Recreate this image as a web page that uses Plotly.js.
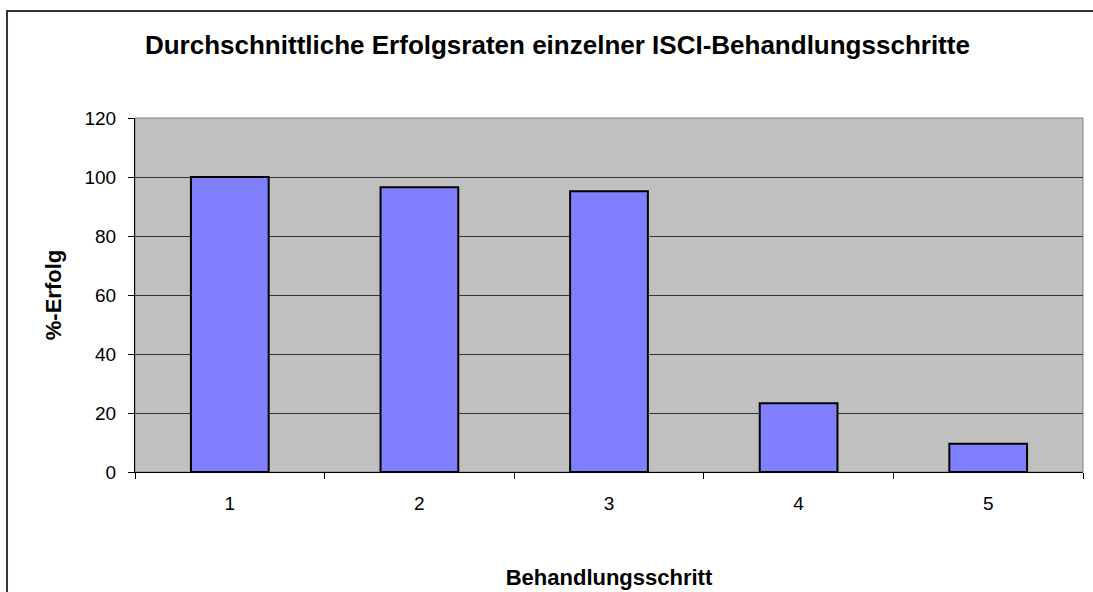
<!DOCTYPE html>
<html>
<head>
<meta charset="utf-8">
<script src="https://cdn.plot.ly/plotly-3.0.1.min.js"></script>
<style>
  body { margin: 0; background: #fff; }
  #graph { width: 1093px; height: 592px; }
</style>
</head>
<body>
<div id="graph"></div>
<script>
// Behandlungsschritte und Erfolgsraten (%)
const schritte = ['1', '2', '3', '4', '5'];
const erfolg = [100, 96.5, 95.2, 23.3, 9.6];
const yTicks = [0, 20, 40, 60, 80, 100, 120];

function plotGraph() {
  const graph = document.getElementById('graph');

  const trace = {
    x: schritte,
    y: erfolg,
    type: 'bar',
    marker: { color: '#8080FF', line: { color: '#000000', width: 2 } },
    hoverinfo: 'x+y'
  };

  const layout = {
    width: 1093,
    height: 592,
    margin: { l: 135, r: 10, t: 118, b: 120 },
    paper_bgcolor: '#ffffff',
    plot_bgcolor: '#C0C0C0',
    font: { family: 'Arial, Liberation Sans, sans-serif', color: '#000' },
    title: {
      text: '<b>Durchschnittliche Erfolgsraten einzelner ISCI-Behandlungsschritte</b>',
      font: { size: 26, color: '#000' },
      x: 0.51, xref: 'container', xanchor: 'center',
      y: 0.924, yref: 'container', yanchor: 'middle'
    },
    bargap: 0.59,
    showlegend: false,
    xaxis: {
      type: 'category',
      tickson: 'boundaries',
      ticks: 'outside',
      ticklen: 6,
      tickcolor: '#000',
      ticklabelstandoff: 14,
      showline: true,
      linecolor: '#000',
      linewidth: 1,
      showgrid: false,
      tickfont: { size: 19 },
      title: { text: '<b>Behandlungsschritt</b>', font: { size: 22 }, standoff: 56 }
    },
    yaxis: {
      range: [0, 120],
      tickvals: yTicks,
      ticks: 'outside',
      ticklen: 6,
      tickcolor: '#000',
      ticklabelstandoff: 8,
      showline: true,
      linecolor: '#000',
      linewidth: 1,
      showgrid: true,
      gridcolor: '#333333',
      gridwidth: 1,
      zeroline: false,
      tickfont: { size: 19 },
      title: { text: '<b>%-Erfolg</b>', font: { size: 22 }, standoff: 16 }
    },
    shapes: [
      { type: 'rect', xref: 'paper', yref: 'paper', x0: 0, x1: 1, y0: 0, y1: 1,
        line: { color: '#808080', width: 1 }, layer: 'below' },
      { type: 'rect', xref: 'paper', yref: 'paper', x0: -0.135, x1: 1.1, y0: -0.4, y1: 1.302,
        line: { color: '#333333', width: 2 } }
    ]
  };

  Plotly.newPlot(graph, [trace], layout, { displayModeBar: false, staticPlot: true });
}

plotGraph();
</script>
</body>
</html>
